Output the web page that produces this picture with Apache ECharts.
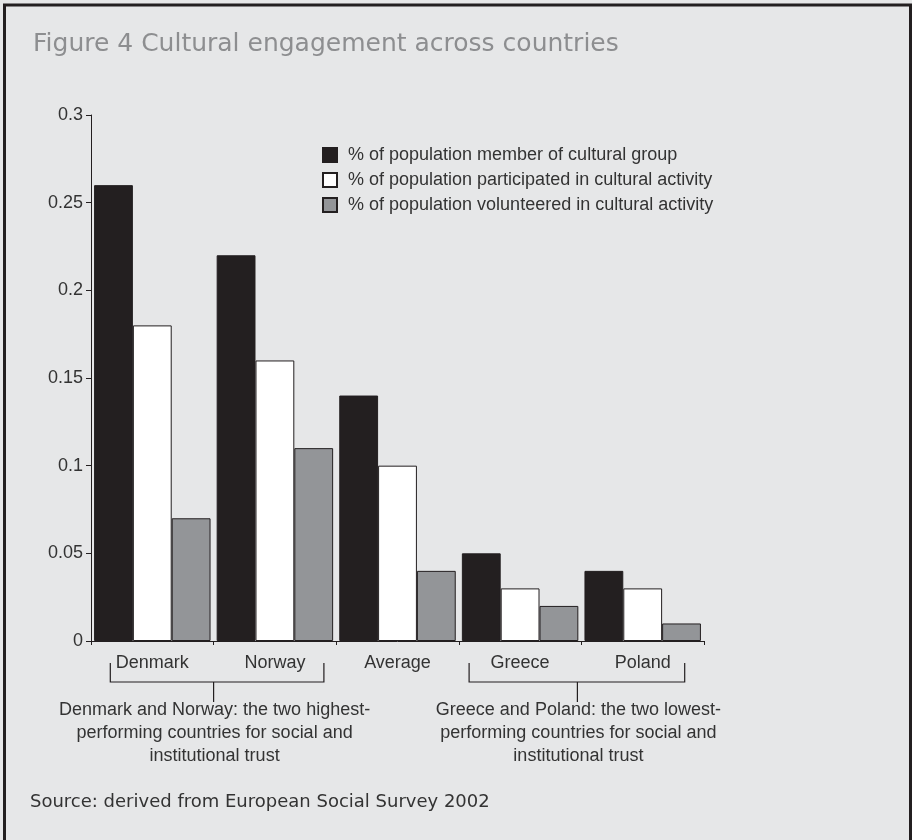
<!DOCTYPE html>
<html>
<head>
<meta charset="utf-8">
<script src="https://cdn.jsdelivr.net/npm/echarts@6/dist/echarts.min.js"></script>
<style>
  html, body { margin: 0; padding: 0; background: #e6e7e8; }
  #chart { width: 912px; height: 840px; }
</style>
</head>
<body>
<div id="chart"></div>
<script>
const countries = ['Denmark', 'Norway', 'Average', 'Greece', 'Poland']
const memberGroup = [0.26, 0.22, 0.14, 0.05, 0.04]
const participated = [0.18, 0.16, 0.10, 0.03, 0.03]
const volunteered = [0.07, 0.11, 0.04, 0.02, 0.01]
const seriesNames = [
  '% of population member of cultural group',
  '% of population participated in cultural activity',
  '% of population volunteered in cultural activity'
]
const highNote = 'Denmark and Norway: the two highest-\nperforming countries for social and\ninstitutional trust'
const lowNote = 'Greece and Poland: the two lowest-\nperforming countries for social and\ninstitutional trust'

const INK = '#231f20'
const TXT = '#333333'
const BODY_FONT = '"Liberation Sans", Arial, sans-serif'
const HEAD_FONT = '"DejaVu Sans", sans-serif'

const chart = echarts.init(document.getElementById('chart'))

function barSeries(name, data, color) {
  return {
    name,
    type: 'bar',
    data,
    barGap: '0%',
    barCategoryGap: '5%',
    itemStyle: { color, borderColor: INK, borderWidth: 1 },
    emphasis: { disabled: true }
  }
}

chart.setOption({
  backgroundColor: '#e6e7e8',
  animation: false,
  textStyle: { fontFamily: BODY_FONT },
  title: {
    text: 'Figure 4 Cultural engagement across countries',
    left: 28,
    top: 27,
    textStyle: { fontFamily: HEAD_FONT, fontSize: 25, fontWeight: 'normal', color: '#8d8e90' }
  },
  legend: {
    orient: 'vertical',
    left: 322,
    top: 146,
    padding: 0,
    itemWidth: 14,
    itemHeight: 14,
    itemGap: 7,
    icon: 'rect',
    textStyle: { fontFamily: BODY_FONT, fontSize: 18, color: TXT, lineHeight: 18, padding: [0, 0, 0, 6] },
    data: seriesNames
  },
  grid: { left: 91, right: 208, top: 115, bottom: 199, containLabel: false },
  xAxis: {
    type: 'category',
    data: countries,
    axisLine: { show: true, lineStyle: { color: INK, width: 1 } },
    axisTick: { show: true, length: 4, lineStyle: { color: INK } },
    axisLabel: { margin: 13, fontSize: 18, color: TXT, fontFamily: BODY_FONT }
  },
  yAxis: {
    type: 'value',
    min: 0,
    max: 0.3,
    interval: 0.05,
    splitLine: { show: false },
    axisLine: { show: true, lineStyle: { color: INK, width: 1 } },
    axisTick: { show: true, length: 5, lineStyle: { color: INK } },
    axisLabel: { margin: 8, fontSize: 18, color: TXT, fontFamily: BODY_FONT }
  },
  series: [
    barSeries(seriesNames[0], memberGroup, INK),
    barSeries(seriesNames[1], participated, '#ffffff'),
    barSeries(seriesNames[2], volunteered, '#939598')
  ]
})

// brackets and notes under the axis, placed from the axis scale
const cx = c => chart.convertToPixel({ xAxisIndex: 0 }, c)
const y0 = chart.convertToPixel({ yAxisIndex: 0 }, 0)

function bracket(xl, xr, stem, note) {
  const top = y0 + 22, mid = y0 + 41, bot = y0 + 61
  return [
    {
      type: 'polyline',
      shape: { points: [[xl, top], [xl, mid], [xr, mid], [xr, top]] },
      style: { stroke: INK, lineWidth: 1.2, fill: null }
    },
    {
      type: 'line',
      shape: { x1: stem, y1: mid, x2: stem, y2: bot },
      style: { stroke: INK, lineWidth: 1.2 }
    },
    {
      type: 'text',
      x: stem + 1,
      y: bot - 3,
      style: {
        text: note,
        font: '18px ' + BODY_FONT,
        fill: TXT,
        align: 'center',
        verticalAlign: 'top',
        lineHeight: 23
      }
    }
  ]
}

const dk = cx('Denmark'), no = cx('Norway'), gr = cx('Greece'), pl = cx('Poland')

chart.setOption({
  graphic: [
    {
      type: 'rect',
      shape: { x: 4.5, y: 5, width: 906, height: 838 },
      style: { fill: null, stroke: INK, lineWidth: 3 },
      silent: true
    },
    ...bracket(dk - 42, no + 49, (dk + no) / 2, highNote),
    ...bracket(gr - 51, pl + 42, (gr + pl) / 2 - 4, lowNote),
    {
      type: 'text',
      left: 30,
      top: 793,
      style: {
        text: 'Source: derived from European Social Survey 2002',
        font: '18px ' + HEAD_FONT,
        fill: TXT
      }
    }
  ]
})
</script>
</body>
</html>
